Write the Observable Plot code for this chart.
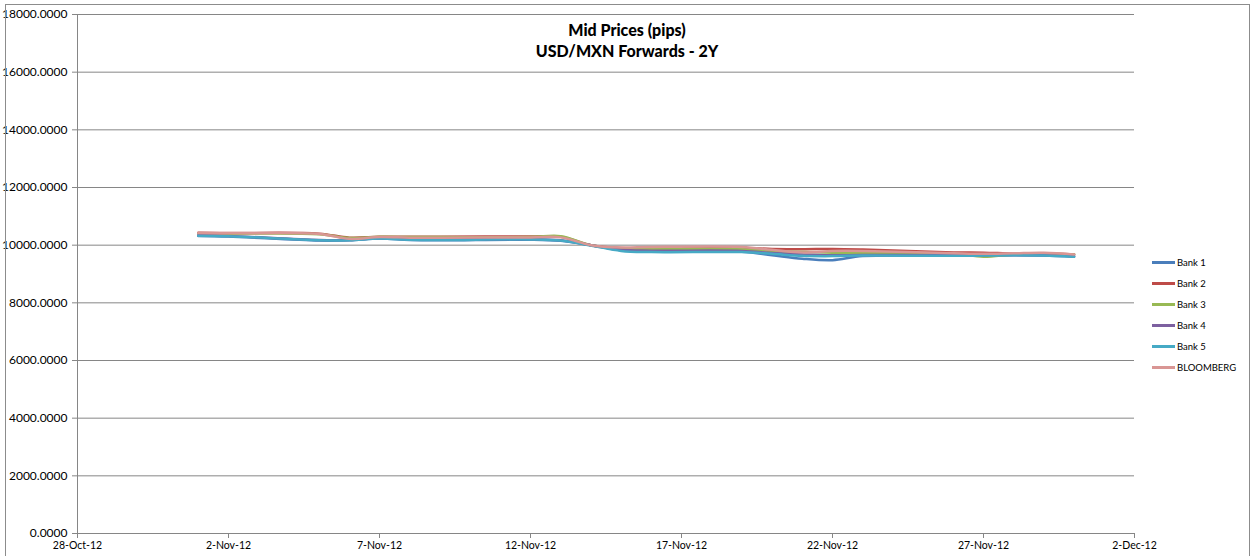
<!DOCTYPE html>
<html>
<head>
<meta charset="utf-8">
<script src="https://cdn.jsdelivr.net/npm/d3@7"></script>
<script src="https://cdn.jsdelivr.net/npm/@observablehq/plot@0.6"></script>
<style>
  html, body { margin: 0; padding: 0; background: #fff; overflow: hidden; }
  #wrap { position: relative; width: 1253px; height: 556px; overflow: hidden; }
  #frame { position: absolute; left: 5px; top: 4px; width: 1243px; height: 600px; border: 1px solid #8c8c8c; pointer-events: none; }
  #title { position: absolute; left: 5px; width: 1244px; top: 19px; text-align: center; font-family: Lato, "Open Sans", sans-serif; font-weight: 900; font-size: 16px; line-height: 21px; color: #000; }
  #legend { position: absolute; left: 1152px; top: 252px; font-family: Lato, "Open Sans", sans-serif; font-size: 9.5px; color: #000; }
  #legend .row { height: 21px; display: flex; align-items: center; }
  #legend .sw { width: 23px; height: 3px; margin-right: 2px; }
</style>
</head>
<body>
<div id="wrap">
  <div id="chart"></div>
  <div id="frame"></div>
  <div id="title">Mid Prices (pips)<br>USD/MXN Forwards - 2Y</div>
  <div id="legend"></div>
</div>
<script>
const seriesNames = ["Bank 1", "Bank 2", "Bank 3", "Bank 4", "Bank 5", "BLOOMBERG"];
const seriesColors = ["#4a7ebb", "#be4b48", "#98b954", "#7d60a0", "#46aac5", "#d99694"];

const dates = ["2012-11-01","2012-11-02","2012-11-05","2012-11-06","2012-11-07","2012-11-08","2012-11-09",
  "2012-11-12","2012-11-13","2012-11-14","2012-11-15","2012-11-16","2012-11-19","2012-11-20","2012-11-21",
  "2012-11-22","2012-11-23","2012-11-26","2012-11-27","2012-11-28","2012-11-29","2012-11-30"];

const bank1 = [10320,10300,10160,10170,10230,10180,10170,10190,10150,10000,9820,9780,9770,9650,9530,9480,9620,9630,9640,9650,9640,9600];
const bank2 = [10430,10420,10400,10260,10290,10290,10290,10300,10290,10000,9900,9900,9900,9870,9860,9870,9850,9750,9740,9710,9710,9680];
const bank3 = [10400,10400,10380,10250,10290,10280,10280,10280,10310,10000,9880,9870,9860,9800,9760,9740,9740,9700,9600,9680,9700,9680];
const bank4 = [10340,10320,10180,10180,10240,10200,10200,10210,10170,10000,9840,9810,9800,9730,9680,9650,9660,9650,9650,9660,9650,9620];
const bank5 = [10330,10310,10170,10170,10230,10190,10180,10200,10160,9990,9800,9760,9760,9700,9630,9620,9640,9630,9640,9650,9640,9600];
const bloomberg = [10420,10410,10390,10220,10280,10260,10260,10270,10270,10000,9920,9940,9940,9840,9750,9800,9800,9720,9700,9720,9740,9680];

const yTicks = [0,2000,4000,6000,8000,10000,12000,14000,16000,18000];
const xTicks = ["2012-10-28","2012-11-02","2012-11-07","2012-11-12","2012-11-17","2012-11-22","2012-11-27","2012-12-02"];

const allSeries = [bank1, bank2, bank3, bank4, bank5, bloomberg];
const data = [];
allSeries.forEach((vals, i) => {
  vals.forEach((v, j) => data.push({series: seriesNames[i], date: new Date(dates[j] + "T00:00:00Z"), value: v}));
});
const xTickDates = xTicks.map(d => new Date(d + "T00:00:00Z"));
const fmtDate = d3.utcFormat("%-d-%b-%y");

const chart = Plot.plot({
  width: 1253,
  height: 556,
  marginLeft: 77,
  marginRight: 119,
  marginTop: 14,
  marginBottom: 23,
  style: {fontFamily: "Lato, 'Open Sans', sans-serif", fontSize: "10.5px", color: "#000", background: "#fff"},
  x: {type: "utc", domain: [xTickDates[0], xTickDates[xTickDates.length - 1]]},
  y: {domain: [0, 18000]},
  color: {domain: seriesNames, range: seriesColors},
  marks: [
    Plot.ruleY(yTicks.filter(d => d > 0), {stroke: "#868686", strokeWidth: 1}),
    Plot.ruleX([xTickDates[0]], {stroke: "#868686", strokeWidth: 1}),
    Plot.ruleY([0], {stroke: "#868686", strokeWidth: 1}),
    Plot.axisY({ticks: yTicks, tickFormat: d => d.toFixed(4), tickSize: 5, tickPadding: 5, fontSize: 12, stroke: "#868686", fill: "#000", label: null}),
    Plot.axisX({ticks: xTickDates, tickFormat: fmtDate, tickSize: 5, tickPadding: 3, stroke: "#868686", fill: "#000", label: null}),
    Plot.lineY(data, {x: "date", y: "value", z: "series", stroke: "series", curve: "catmull-rom", strokeWidth: 2.5})
  ]
});
document.getElementById("chart").appendChild(chart);

const legend = document.getElementById("legend");
seriesNames.forEach((n, i) => {
  const row = document.createElement("div");
  row.className = "row";
  const sw = document.createElement("span");
  sw.className = "sw";
  sw.style.background = seriesColors[i];
  const t = document.createElement("span");
  t.textContent = n;
  row.appendChild(sw);
  row.appendChild(t);
  legend.appendChild(row);
});
</script>
</body>
</html>
